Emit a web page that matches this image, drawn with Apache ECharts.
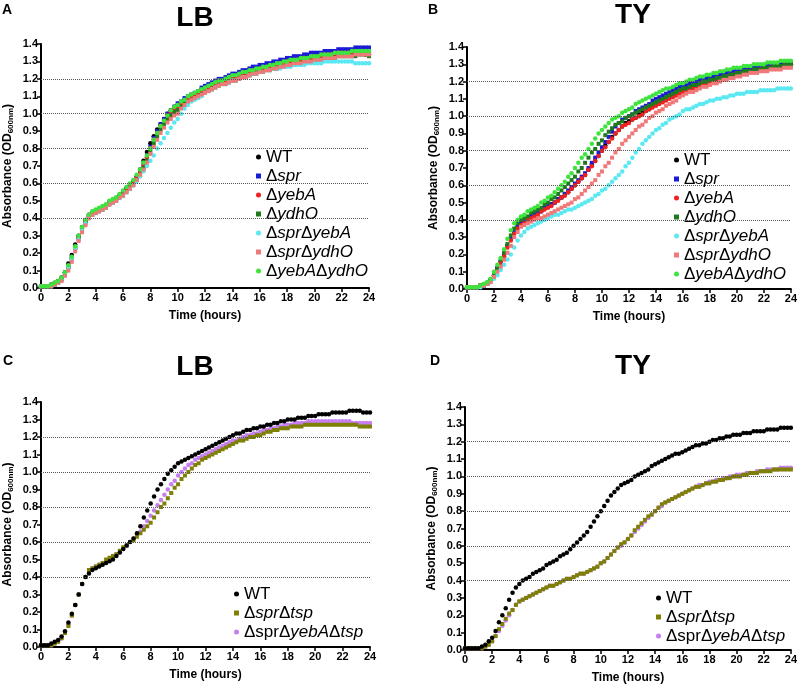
<!DOCTYPE html>
<html>
<head>
<meta charset="utf-8">
<script src="https://cdn.jsdelivr.net/npm/echarts@6/dist/echarts.min.js"></script>
<style>
  html, body { margin: 0; padding: 0; background: #fff; }
  #chart { width: 800px; height: 685px; }
</style>
</head>
<body>
<div id="chart"></div>
<script>
// sampling times, every 15 min (hours)
const TIMES = [
  0, 0.25, 0.5, 0.75, 1, 1.25, 1.5, 1.75,
  2, 2.25, 2.5, 2.75, 3, 3.25, 3.5, 3.75,
  4, 4.25, 4.5, 4.75, 5, 5.25, 5.5, 5.75,
  6, 6.25, 6.5, 6.75, 7, 7.25, 7.5, 7.75,
  8, 8.25, 8.5, 8.75, 9, 9.25, 9.5, 9.75,
  10, 10.25, 10.5, 10.75, 11, 11.25, 11.5, 11.75,
  12, 12.25, 12.5, 12.75, 13, 13.25, 13.5, 13.75,
  14, 14.25, 14.5, 14.75, 15, 15.25, 15.5, 15.75,
  16, 16.25, 16.5, 16.75, 17, 17.25, 17.5, 17.75,
  18, 18.25, 18.5, 18.75, 19, 19.25, 19.5, 19.75,
  20, 20.25, 20.5, 20.75, 21, 21.25, 21.5, 21.75,
  22, 22.25, 22.5, 22.75, 23, 23.25, 23.5, 23.75,
  24
]
const X_TICKS = [0, 2, 4, 6, 8, 10, 12, 14, 16, 18, 20, 22, 24]
const GRID_Y = [0.4, 0.6, 0.8, 1.0, 1.2]

// ---- panel A (LB) ----
const A_WT = [
  .01,.01,.01,.02,.03,.04,.06,.09, .14,.19,.25,.30,.35,.39,.42,.43,
  .44,.45,.46,.47,.49,.50,.51,.53, .55,.57,.59,.61,.64,.68,.73,.78,
  .83,.87,.91,.94,.97,1.00,1.02,1.04, 1.05,1.06,1.08,1.09,1.10,1.11,1.12,1.14,
  1.15,1.15,1.16,1.17,1.18,1.19,1.20,1.20, 1.21,1.22,1.22,1.23,1.24,1.24,1.25,1.25,
  1.26,1.26,1.27,1.27,1.28,1.28,1.28,1.29, 1.29,1.30,1.30,1.30,1.31,1.31,1.31,1.32,
  1.32,1.32,1.33,1.33,1.33,1.33,1.34,1.34, 1.34,1.34,1.34,1.34,1.35,1.35,1.35,1.34,
  1.34
]
const A_SPR = [
  .01,.01,.01,.01,.02,.03,.05,.08, .12,.17,.23,.29,.34,.38,.41,.43,
  .44,.45,.46,.47,.49,.50,.51,.53, .55,.57,.59,.61,.63,.67,.71,.76,
  .81,.86,.90,.94,.97,1.00,1.02,1.04, 1.06,1.07,1.09,1.10,1.11,1.12,1.13,1.15,
  1.16,1.17,1.18,1.19,1.20,1.20,1.21,1.22, 1.23,1.23,1.24,1.25,1.25,1.26,1.27,1.27,
  1.28,1.28,1.29,1.29,1.30,1.30,1.31,1.31, 1.32,1.32,1.33,1.33,1.33,1.34,1.34,1.35,
  1.35,1.35,1.35,1.36,1.36,1.36,1.36,1.37, 1.37,1.37,1.37,1.37,1.38,1.38,1.38,1.38,
  1.38
]
const A_YEBA = [
  .01,.01,.01,.01,.02,.03,.05,.08, .12,.17,.23,.29,.34,.38,.41,.43,
  .44,.45,.46,.47,.48,.50,.51,.52, .54,.56,.58,.60,.63,.66,.70,.75,
  .80,.85,.89,.93,.96,.99,1.01,1.03, 1.04,1.06,1.07,1.09,1.10,1.11,1.12,1.13,
  1.14,1.15,1.16,1.17,1.18,1.18,1.19,1.20, 1.21,1.21,1.22,1.23,1.23,1.24,1.25,1.25,
  1.26,1.26,1.27,1.27,1.28,1.28,1.29,1.29, 1.30,1.30,1.30,1.31,1.31,1.32,1.32,1.32,
  1.33,1.33,1.33,1.34,1.34,1.34,1.34,1.35, 1.35,1.35,1.35,1.35,1.35,1.35,1.35,1.35,
  1.35
]
const A_YDHO = [
  .01,.01,.01,.01,.02,.03,.05,.08, .12,.17,.23,.28,.33,.37,.41,.42,
  .43,.44,.45,.46,.48,.49,.50,.52, .53,.55,.57,.59,.62,.65,.69,.73,
  .78,.83,.87,.91,.94,.97,.99,1.01, 1.02,1.04,1.06,1.07,1.08,1.09,1.10,1.11,
  1.12,1.13,1.14,1.15,1.16,1.17,1.17,1.18, 1.19,1.19,1.20,1.21,1.21,1.22,1.23,1.23,
  1.24,1.24,1.25,1.25,1.26,1.26,1.27,1.27, 1.28,1.28,1.28,1.29,1.29,1.30,1.30,1.30,
  1.31,1.31,1.31,1.32,1.32,1.32,1.32,1.33, 1.33,1.33,1.33,1.33,1.33,1.34,1.34,1.34,
  1.33
]
const A_SPR_YEBA = [
  .01,.01,.01,.01,.02,.03,.05,.08, .12,.17,.23,.28,.33,.37,.40,.42,
  .43,.44,.45,.46,.48,.49,.50,.52, .53,.55,.57,.59,.61,.64,.67,.70,
  .73,.76,.80,.83,.86,.89,.92,.95, .97,1.00,1.03,1.05,1.07,1.08,1.09,1.10,
  1.12,1.13,1.14,1.15,1.16,1.17,1.17,1.18, 1.19,1.19,1.20,1.21,1.21,1.22,1.23,1.23,
  1.24,1.24,1.25,1.25,1.26,1.26,1.26,1.27, 1.27,1.27,1.28,1.28,1.28,1.28,1.29,1.29,
  1.29,1.29,1.29,1.30,1.30,1.30,1.30,1.30, 1.30,1.30,1.30,1.30,1.29,1.29,1.29,1.29,
  1.29
]
const A_SPR_YDHO = [
  .01,.01,.01,.01,.02,.03,.04,.07, .10,.15,.21,.27,.32,.36,.40,.42,
  .43,.44,.45,.46,.48,.49,.50,.52, .53,.55,.57,.59,.62,.65,.68,.72,
  .77,.81,.85,.89,.92,.95,.97,.99, 1.00,1.03,1.05,1.07,1.08,1.09,1.10,1.11,
  1.12,1.13,1.14,1.15,1.16,1.17,1.17,1.18, 1.19,1.19,1.20,1.21,1.21,1.22,1.23,1.23,
  1.24,1.24,1.25,1.25,1.26,1.26,1.27,1.27, 1.28,1.28,1.29,1.29,1.29,1.30,1.30,1.30,
  1.31,1.31,1.31,1.32,1.32,1.32,1.32,1.33, 1.33,1.33,1.33,1.33,1.34,1.34,1.34,1.34,
  1.34
]
const A_YEBA_YDHO = [
  .01,.01,.01,.02,.03,.04,.06,.09, .13,.18,.24,.30,.35,.39,.42,.44,
  .45,.46,.47,.48,.50,.51,.52,.54, .56,.58,.60,.62,.65,.68,.72,.76,
  .80,.85,.89,.93,.96,.99,1.02,1.04, 1.05,1.07,1.08,1.10,1.11,1.12,1.13,1.14,
  1.15,1.16,1.17,1.18,1.19,1.19,1.20,1.21, 1.22,1.22,1.23,1.24,1.24,1.25,1.25,1.26,
  1.26,1.27,1.27,1.28,1.28,1.29,1.29,1.30, 1.30,1.31,1.31,1.31,1.32,1.32,1.32,1.33,
  1.33,1.33,1.34,1.34,1.34,1.34,1.35,1.35, 1.35,1.35,1.35,1.36,1.36,1.36,1.36,1.36,
  1.36
]

// ---- panel B (TY) ----
const B_WT = [
  .01,.01,.01,.01,.02,.02,.03,.05, .08,.12,.16,.20,.25,.29,.33,.36,
  .38,.39,.40,.42,.43,.44,.45,.47, .48,.49,.50,.52,.53,.55,.56,.58,
  .60,.62,.64,.66,.69,.72,.74,.77, .80,.83,.85,.88,.90,.92,.94,.96,
  .97,.98,.99,1.01,1.02,1.03,1.04,1.06, 1.07,1.08,1.09,1.10,1.11,1.12,1.13,1.14,
  1.15,1.16,1.17,1.17,1.18,1.19,1.19,1.20, 1.21,1.21,1.22,1.22,1.23,1.23,1.24,1.24,
  1.25,1.25,1.26,1.26,1.26,1.27,1.27,1.27, 1.28,1.28,1.28,1.29,1.29,1.29,1.29,1.30,
  1.30
]
const B_SPR = [
  .01,.01,.01,.01,.02,.02,.03,.05, .08,.12,.16,.20,.25,.29,.33,.36,
  .38,.39,.40,.42,.43,.44,.45,.47, .48,.49,.50,.52,.53,.55,.57,.59,
  .61,.63,.65,.67,.70,.73,.76,.79, .82,.85,.88,.91,.94,.96,.98,.99,
  1.00,1.01,1.03,1.04,1.05,1.06,1.07,1.09, 1.10,1.11,1.12,1.13,1.14,1.15,1.16,1.17,
  1.18,1.18,1.19,1.20,1.20,1.21,1.22,1.22, 1.23,1.23,1.24,1.24,1.25,1.25,1.26,1.26,
  1.27,1.27,1.27,1.28,1.28,1.28,1.28,1.29, 1.29,1.29,1.29,1.30,1.30,1.30,1.30,1.30,
  1.30
]
const B_YEBA = [
  .01,.01,.01,.01,.02,.02,.03,.05, .08,.11,.15,.19,.24,.28,.32,.35,
  .37,.38,.40,.41,.42,.43,.45,.46, .47,.48,.50,.51,.53,.54,.56,.58,
  .60,.62,.64,.66,.69,.71,.74,.77, .80,.82,.85,.87,.90,.92,.94,.95,
  .96,.98,.99,1.00,1.01,1.03,1.04,1.05, 1.06,1.07,1.08,1.09,1.10,1.11,1.12,1.13,
  1.14,1.15,1.16,1.16,1.17,1.18,1.19,1.19, 1.20,1.20,1.21,1.22,1.22,1.23,1.23,1.24,
  1.24,1.25,1.25,1.25,1.26,1.26,1.26,1.27, 1.27,1.27,1.28,1.28,1.28,1.28,1.29,1.29,
  1.29
]
const B_YDHO = [
  .01,.01,.01,.01,.02,.02,.03,.05, .08,.12,.17,.21,.26,.31,.35,.38,
  .40,.41,.42,.44,.45,.46,.47,.49, .50,.52,.53,.55,.57,.59,.61,.63,
  .65,.68,.70,.73,.76,.79,.81,.84, .86,.89,.91,.93,.95,.96,.97,.99,
  1.00,1.01,1.02,1.03,1.04,1.05,1.06,1.07, 1.08,1.09,1.10,1.11,1.12,1.13,1.14,1.15,
  1.16,1.16,1.17,1.18,1.18,1.19,1.20,1.20, 1.21,1.21,1.22,1.22,1.23,1.23,1.24,1.24,
  1.25,1.25,1.26,1.26,1.26,1.27,1.27,1.27, 1.28,1.28,1.28,1.29,1.29,1.29,1.30,1.30,
  1.30
]
const B_SPR_YEBA = [
  .01,.01,.01,.01,.01,.02,.03,.04, .06,.08,.11,.14,.17,.20,.24,.28,
  .31,.33,.35,.36,.37,.38,.39,.40, .41,.42,.43,.43,.44,.45,.46,.46,
  .47,.48,.49,.50,.51,.52,.54,.55, .57,.58,.60,.62,.64,.66,.68,.71,
  .73,.76,.79,.81,.84,.86,.88,.90, .92,.93,.95,.96,.98,.99,1.00,1.01,
  1.03,1.04,1.04,1.05,1.06,1.07,1.07,1.08, 1.09,1.09,1.10,1.10,1.11,1.11,1.12,1.12,
  1.13,1.13,1.13,1.14,1.14,1.14,1.14,1.15, 1.15,1.15,1.15,1.15,1.16,1.16,1.16,1.16,
  1.16
]
const B_SPR_YDHO = [
  .01,.01,.01,.01,.02,.02,.03,.04, .07,.10,.13,.17,.21,.25,.30,.33,
  .36,.37,.38,.39,.40,.41,.41,.42, .43,.44,.45,.46,.47,.48,.49,.50,
  .52,.53,.55,.57,.59,.61,.63,.66, .68,.71,.73,.76,.79,.81,.84,.86,
  .88,.90,.92,.94,.95,.97,.99,1.00, 1.02,1.03,1.04,1.06,1.07,1.08,1.09,1.11,
  1.12,1.13,1.14,1.14,1.15,1.16,1.17,1.17, 1.18,1.19,1.19,1.20,1.21,1.21,1.22,1.22,
  1.23,1.23,1.24,1.24,1.25,1.25,1.25,1.26, 1.26,1.26,1.27,1.27,1.27,1.27,1.28,1.28,
  1.28
]
const B_YEBA_YDHO = [
  .01,.01,.01,.01,.02,.03,.04,.06, .10,.14,.18,.23,.29,.34,.38,.40,
  .42,.43,.45,.46,.47,.48,.50,.51, .53,.54,.56,.58,.60,.62,.65,.67,
  .70,.73,.76,.78,.81,.84,.87,.90, .92,.94,.96,.98,.99,1.00,1.02,1.03,
  1.04,1.05,1.07,1.08,1.09,1.10,1.11,1.12, 1.13,1.14,1.15,1.16,1.16,1.17,1.18,1.19,
  1.19,1.20,1.21,1.21,1.22,1.23,1.23,1.24, 1.24,1.25,1.25,1.26,1.26,1.27,1.27,1.28,
  1.28,1.28,1.29,1.29,1.29,1.30,1.30,1.30, 1.30,1.31,1.31,1.31,1.31,1.32,1.32,1.32,
  1.32
]

// ---- panel C (LB) ----
const C_WT = [
  .01,.01,.01,.02,.03,.04,.06,.09, .14,.19,.24,.30,.36,.40,.42,.44,
  .45,.46,.47,.48,.49,.50,.52,.54, .56,.58,.60,.62,.65,.69,.74,.78,
  .82,.86,.90,.93,.96,.99,1.01,1.03, 1.05,1.06,1.07,1.08,1.09,1.10,1.11,1.12,
  1.13,1.14,1.15,1.16,1.17,1.18,1.19,1.20, 1.21,1.22,1.22,1.23,1.24,1.24,1.25,1.25,
  1.26,1.26,1.27,1.27,1.28,1.28,1.29,1.29, 1.30,1.30,1.30,1.31,1.31,1.31,1.32,1.32,
  1.32,1.33,1.33,1.33,1.33,1.34,1.34,1.34, 1.34,1.34,1.35,1.35,1.35,1.35,1.34,1.34,
  1.34
]
const C_SPR_TSP = [
  .01,.01,.01,.01,.02,.03,.05,.08, .12,.18,.24,.30,.36,.40,.44,.45,
  .46,.47,.48,.50,.51,.52,.53,.55, .57,.58,.60,.61,.63,.65,.67,.69,
  .71,.74,.77,.80,.82,.85,.88,.91, .93,.96,.98,1.00,1.02,1.04,1.05,1.07,
  1.08,1.09,1.10,1.11,1.12,1.13,1.14,1.15, 1.16,1.17,1.18,1.18,1.19,1.20,1.20,1.21,
  1.21,1.22,1.23,1.23,1.24,1.24,1.25,1.25, 1.25,1.26,1.26,1.26,1.26,1.27,1.27,1.27,
  1.27,1.27,1.27,1.27,1.27,1.27,1.27,1.27, 1.27,1.27,1.27,1.27,1.27,1.26,1.26,1.26,
  1.26
]
const C_SPR_YEBA_TSP = [
  .01,.01,.01,.01,.02,.03,.05,.08, .13,.18,.24,.30,.36,.40,.43,.45,
  .46,.47,.48,.49,.50,.52,.53,.54, .56,.58,.60,.62,.64,.66,.69,.72,
  .75,.78,.81,.84,.87,.90,.93,.95, .98,1.00,1.02,1.04,1.05,1.07,1.08,1.09,
  1.10,1.11,1.12,1.13,1.14,1.15,1.16,1.17, 1.18,1.18,1.19,1.20,1.21,1.21,1.22,1.22,
  1.23,1.24,1.24,1.25,1.25,1.26,1.26,1.27, 1.27,1.27,1.28,1.28,1.28,1.28,1.29,1.29,
  1.29,1.29,1.29,1.29,1.29,1.29,1.29,1.29, 1.29,1.29,1.29,1.28,1.28,1.28,1.28,1.28,
  1.28
]

// ---- panel D (TY) ----
const D_WT = [
  .01,.01,.01,.01,.01,.02,.03,.05, .07,.11,.16,.20,.24,.29,.33,.36,
  .38,.40,.41,.42,.44,.45,.46,.47, .49,.50,.51,.52,.54,.55,.56,.58,
  .60,.62,.64,.66,.68,.71,.74,.77, .80,.83,.86,.89,.91,.93,.95,.96,
  .97,.98,1.00,1.01,1.02,1.03,1.04,1.06, 1.07,1.08,1.09,1.10,1.11,1.12,1.13,1.13,
  1.14,1.15,1.16,1.17,1.18,1.18,1.19,1.19, 1.20,1.21,1.21,1.22,1.22,1.23,1.23,1.24,
  1.24,1.24,1.25,1.25,1.25,1.26,1.26,1.26, 1.26,1.27,1.27,1.27,1.27,1.28,1.28,1.28,
  1.28
]
const D_SPR_TSP = [
  .01,.01,.01,.01,.01,.01,.02,.03, .05,.08,.12,.15,.18,.21,.23,.26,
  .28,.29,.30,.31,.32,.33,.34,.35, .36,.37,.37,.38,.39,.40,.41,.41,
  .42,.43,.44,.44,.45,.46,.47,.48, .50,.51,.53,.55,.57,.59,.61,.62,
  .64,.66,.69,.71,.73,.75,.77,.78, .80,.82,.84,.85,.86,.87,.88,.89,
  .90,.91,.92,.93,.94,.94,.95,.96, .96,.97,.97,.98,.98,.99,.99,1.00,
  1.00,1.00,1.01,1.01,1.02,1.02,1.02,1.03, 1.03,1.03,1.03,1.04,1.04,1.04,1.04,1.04,
  1.04
]
const D_SPR_YEBA_TSP = [
  .01,.01,.01,.01,.01,.01,.02,.03, .05,.08,.11,.14,.17,.20,.23,.26,
  .28,.29,.30,.31,.32,.33,.34,.35, .36,.37,.37,.38,.39,.40,.41,.41,
  .42,.43,.44,.44,.45,.46,.47,.48, .50,.51,.53,.55,.57,.59,.60,.62,
  .64,.66,.68,.70,.72,.74,.76,.78, .80,.82,.83,.85,.86,.87,.88,.89,
  .90,.91,.92,.93,.94,.95,.95,.96, .97,.97,.98,.98,.99,.99,1.00,1.00,
  1.01,1.01,1.01,1.02,1.02,1.02,1.03,1.03, 1.03,1.04,1.04,1.04,1.04,1.05,1.05,1.05,
  1.05
]

const STRAINS_AB = ['WT', 'Δspr', 'ΔyebA', 'ΔydhO', 'ΔsprΔyebA', 'ΔsprΔydhO', 'ΔyebAΔydhO']
const STRAINS_CD = ['WT', 'ΔsprΔtsp', 'ΔsprΔyebAΔtsp']

// legend markup (italic gene names)
const LEGEND_TEXT = {
  'WT': '{n|WT}',
  'Δspr': '{n|Δ}{i|spr}',
  'ΔyebA': '{n|Δ}{i|yebA}',
  'ΔydhO': '{n|Δ}{i|ydhO}',
  'ΔsprΔyebA': '{n|Δ}{i|spr}{n|Δ}{i|yebA}',
  'ΔsprΔydhO': '{n|Δ}{i|spr}{n|Δ}{i|ydhO}',
  'ΔyebAΔydhO': '{n|Δ}{i|yebA}{n|Δ}{i|ydhO}',
  'ΔsprΔtsp': '{n|Δ}{i|spr}{n|Δ}{i|tsp}',
  'ΔsprΔyebAΔtsp': '{n|ΔsprΔ}{i|yebA}{n|Δ}{i|tsp}'
}
const COLORS = {
  'WT': '#000000',
  'Δspr': '#1b1bd6',
  'ΔyebA': '#f02020',
  'ΔydhO': '#1f7a1f',
  'ΔsprΔyebA': '#5ae8f2',
  'ΔsprΔydhO': '#f07878',
  'ΔyebAΔydhO': '#3ee43e',
  'ΔsprΔtsp': '#7d8004',
  'ΔsprΔyebAΔtsp': '#c67ef2'
}
const SHAPES = {
  'WT': 'circle', 'Δspr': 'rect', 'ΔyebA': 'circle', 'ΔydhO': 'rect',
  'ΔsprΔyebA': 'circle', 'ΔsprΔydhO': 'rect', 'ΔyebAΔydhO': 'circle',
  'ΔsprΔtsp': 'rect', 'ΔsprΔyebAΔtsp': 'circle'
}

// drawing order: later entries are painted on top
const panels = [
  { grid: { left: 41, top: 44, width: 328, height: 244 }, names: STRAINS_AB,
    data: [A_WT, A_SPR, A_YEBA, A_YDHO, A_SPR_YEBA, A_SPR_YDHO, A_YEBA_YDHO],
    order: [0, 1, 2, 3, 4, 5, 6],
    legend: { left: 251, top: 143 } },
  { grid: { left: 467, top: 47, width: 324, height: 242 }, names: STRAINS_AB,
    data: [B_WT, B_SPR, B_YEBA, B_YDHO, B_SPR_YEBA, B_SPR_YDHO, B_YEBA_YDHO],
    order: [0, 1, 2, 3, 4, 5, 6],
    legend: { left: 669, top: 146 } },
  { grid: { left: 41, top: 402, width: 329, height: 245 }, names: STRAINS_CD,
    data: [C_WT, C_SPR_TSP, C_SPR_YEBA_TSP],
    order: [2, 1, 0],
    legend: { left: 229, top: 580 } },
  { grid: { left: 465, top: 407, width: 326, height: 243 }, names: STRAINS_CD,
    data: [D_WT, D_SPR_TSP, D_SPR_YEBA_TSP],
    order: [2, 1, 0],
    legend: { left: 651, top: 584 } }
]

const FONT = '"Liberation Sans", Arial, sans-serif'

const chart = echarts.init(document.getElementById('chart'))

const grids = [], xAxes = [], yAxes = [], legends = [], series = []
panels.forEach((p, k) => {
  grids.push(p.grid)
  xAxes.push({
    type: 'value', gridIndex: k, min: 0, max: 24, interval: 2,
    name: 'Time (hours)', nameLocation: 'middle', nameGap: 22,
    nameTextStyle: { fontFamily: FONT, fontWeight: 'bold', fontSize: 12, color: '#000' },
    axisLine: { lineStyle: { color: '#000', width: 2 } },
    axisTick: { show: true, length: 4, lineStyle: { color: '#000', width: 1.5 } },
    axisLabel: { fontFamily: FONT, fontWeight: 'bold', fontSize: 11, color: '#000', margin: 4,
      formatter: v => X_TICKS.includes(v) ? String(v) : '' },
    splitLine: { show: false }
  })
  yAxes.push({
    type: 'value', gridIndex: k, min: 0, max: 1.4, interval: 0.1,
    name: 'Absorbance (OD{sub|600nm})', nameLocation: 'middle', nameGap: 26,
    nameTextStyle: { fontFamily: FONT, fontWeight: 'bold', fontSize: 12, color: '#000',
      rich: { sub: { fontFamily: FONT, fontWeight: 'bold', fontSize: 8, color: '#000', verticalAlign: 'top', padding: [6, 0, 0, 0] } } },
    axisLine: { show: true, lineStyle: { color: '#000', width: 2 } },
    axisTick: { show: true, length: 4, lineStyle: { color: '#000', width: 1.5 } },
    axisLabel: { fontFamily: FONT, fontWeight: 'bold', fontSize: 11, color: '#000', margin: 3,
      formatter: v => v.toFixed(1) },
    splitLine: { show: false }
  })
  legends.push({
    orient: 'vertical', left: p.legend.left, top: p.legend.top,
    data: p.names, itemWidth: 5, itemHeight: 5, itemGap: 1,
    selectedMode: false,
    formatter: name => LEGEND_TEXT[name],
    textStyle: {
      fontFamily: FONT, fontSize: 17, color: '#000', lineHeight: 18,
      rich: {
        n: { fontFamily: FONT, fontSize: 17, color: '#000', lineHeight: 18 },
        i: { fontFamily: FONT, fontSize: 17, color: '#000', fontStyle: 'italic', lineHeight: 18 }
      }
    }
  })
  p.order.forEach((j, n) => {
    const name = p.names[j]
    const s = {
      name: name, type: 'scatter', xAxisIndex: k, yAxisIndex: k,
      symbol: SHAPES[name], symbolSize: SHAPES[name] === 'rect' ? 4 : 4.5,
      itemStyle: { color: COLORS[name], opacity: 1 },
      data: TIMES.map((t, i) => [t, p.data[j][i]]),
      silent: true, animation: false
    }
    if (n === 0) {
      s.markLine = {
        silent: true, symbol: 'none', animation: false,
        label: { show: false },
        lineStyle: { type: 'dotted', color: '#555', width: 1 },
        data: GRID_Y.map(v => ({ yAxis: v }))
      }
    }
    series.push(s)
  })
})

const texts = [
  { text: 'A', x: 2, y: 10, size: 14, align: 'left' },
  { text: 'B', x: 428, y: 10, size: 14, align: 'left' },
  { text: 'C', x: 3, y: 361, size: 14, align: 'left' },
  { text: 'D', x: 430, y: 361, size: 14, align: 'left' },
  { text: 'LB', x: 195, y: 18, size: 28, align: 'center' },
  { text: 'TY', x: 633, y: 15, size: 28, align: 'center' },
  { text: 'LB', x: 195, y: 367, size: 28, align: 'center' },
  { text: 'TY', x: 633, y: 366, size: 28, align: 'center' }
]

chart.setOption({
  animation: false,
  backgroundColor: '#fff',
  grid: grids,
  xAxis: xAxes,
  yAxis: yAxes,
  legend: legends,
  series: series,
  graphic: texts.map(t => ({
    type: 'text', x: t.x, y: t.y,
    style: { text: t.text, fontFamily: FONT, fontWeight: 'bold', fontSize: t.size,
      fill: '#000', textAlign: t.align, textVerticalAlign: 'middle' }
  }))
})
</script>
</body>
</html>
